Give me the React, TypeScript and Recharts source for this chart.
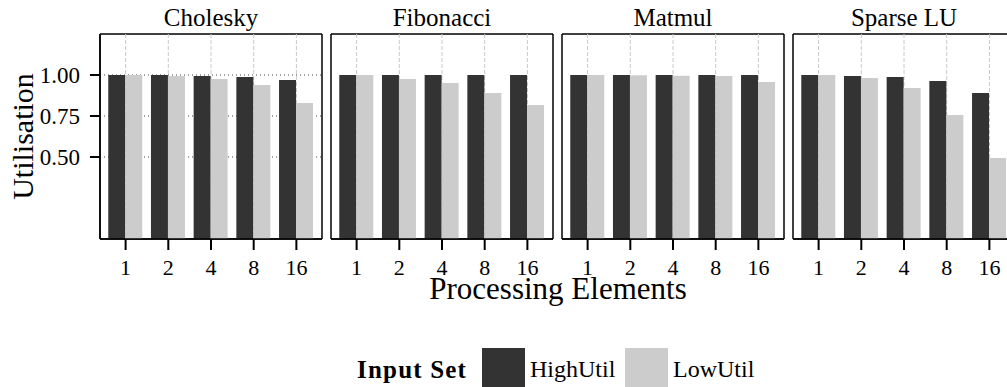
import React from 'react';
import { BarChart, Bar, XAxis, YAxis, CartesianGrid, Legend } from 'recharts';

const peLabels = ['1', '2', '4', '8', '16'];
const benchmarkNames = ['Cholesky', 'Fibonacci', 'Matmul', 'Sparse LU'];
const seriesNames = ['HighUtil', 'LowUtil'];
const seriesColors = ['#333333', '#cccccc'];
const yTicks = [0.5, 0.75, 1.0];

const choleskyHigh = [1.0, 1.0, 0.994, 0.988, 0.97];
const choleskyLow = [1.0, 0.994, 0.976, 0.939, 0.829];
const fibonacciHigh = [1.0, 1.0, 1.0, 1.0, 1.0];
const fibonacciLow = [1.0, 0.976, 0.951, 0.89, 0.817];
const matmulHigh = [1.0, 1.0, 1.0, 1.0, 1.0];
const matmulLow = [1.0, 0.999, 0.996, 0.994, 0.957];
const sparseLuHigh = [1.0, 0.994, 0.988, 0.963, 0.89];
const sparseLuLow = [1.0, 0.982, 0.921, 0.756, 0.494];

const highUtil = [choleskyHigh, fibonacciHigh, matmulHigh, sparseLuHigh];
const lowUtil = [choleskyLow, fibonacciLow, matmulLow, sparseLuLow];

const FONT = '"Liberation Serif", "Times New Roman", serif';
const CHART_W = 1030;
const CHART_H = 387;
const PLOT_W = 222;
const PLOT_TOP = 34;
const PLOT_BOTTOM = 239;
const X_AXIS_H = 45;
const PANEL_LEFT = [100, 331, 562, 793];
const UNIT = PLOT_W / 5.2;
const PAD = UNIT * 0.1;

const axisLineStyle = { stroke: '#000', strokeWidth: 1.5 };
const tickLineStyle = { stroke: '#000', strokeWidth: 2 };
const xTickTextStyle = { fill: '#000', fontSize: 22, fontFamily: FONT };
const yTickTextStyle = { fill: '#000', fontSize: 23, fontFamily: FONT };

const renderLegend = (props: any) => {
  const payload = props.payload || [];
  return (
    <div style={{ display: 'flex', alignItems: 'center', fontFamily: FONT, color: '#000', whiteSpace: 'nowrap' }}>
      <span style={{ fontWeight: 'bold', fontSize: 25, letterSpacing: 1.2, width: 125, display: 'inline-block' }}>Input Set</span>
      {payload.map((entry: any, i: number) => (
        <React.Fragment key={String(entry.value)}>
          <span style={{ display: 'inline-block', width: 43, height: 43, background: entry.color }} />
          <span style={{ display: 'inline-block', fontSize: 24, marginLeft: 5, width: i === 0 ? 95 : 'auto' }}>{entry.value}</span>
        </React.Fragment>
      ))}
    </div>
  );
};

function Panel({ index }: { index: number }) {
  const first = index === 0;
  const yW = first ? 100 : 0;
  const left = PANEL_LEFT[index] - yW;
  const right = CHART_W - PANEL_LEFT[index] - PLOT_W;
  const data = peLabels.map((pe, i) => ({
    pe,
    [seriesNames[0]]: highUtil[index][i],
    [seriesNames[1]]: lowUtil[index][i],
  }));
  const title = benchmarkNames[index];
  return (
    <div style={{ position: 'absolute', left: 0, top: 0 }}>
      <BarChart
        width={CHART_W}
        height={CHART_H}
        data={data}
        margin={{ top: PLOT_TOP, right, bottom: CHART_H - PLOT_BOTTOM - X_AXIS_H, left }}
        barCategoryGap={4}
        barGap={0}
      >
        <CartesianGrid
          stroke="#000"
          strokeWidth={1.5}
          horizontalCoordinatesGenerator={(p: any) => [p.offset.top, p.offset.top + p.offset.height]}
          verticalCoordinatesGenerator={(p: any) => [p.offset.left, p.offset.left + p.offset.width]}
        />
        <CartesianGrid horizontal={false} vertical syncWithTicks stroke="#c8c8c8" strokeDasharray="4 2" />
        <CartesianGrid horizontal vertical={false} syncWithTicks stroke="#444" strokeDasharray="1 3" />
        <XAxis
          dataKey="pe"
          interval={0}
          padding={{ left: PAD, right: PAD }}
          height={X_AXIS_H}
          tickSize={11}
          tickMargin={9}
          tick={xTickTextStyle}
          tickLine={tickLineStyle}
          axisLine={axisLineStyle}
          label={(p: any) => {
            const vb = p.viewBox || {};
            const cx = (vb.x ?? PANEL_LEFT[index]) + (vb.width ?? PLOT_W) / 2;
            return (
              <g>
                <text x={cx} y={26} textAnchor="middle" fontSize={25} fontFamily={FONT} style={{ fontFamily: FONT }} fill="#000">
                  {title}
                </text>
                {first ? (
                  <text x={558} y={299} textAnchor="middle" fontSize={31} fontFamily={FONT} style={{ fontFamily: FONT }} fill="#000">
                    Processing Elements
                  </text>
                ) : null}
              </g>
            );
          }}
        />
        <YAxis
          domain={[0, 1.25]}
          ticks={yTicks}
          width={yW}
          tickSize={10}
          tickMargin={10}
          tick={first ? yTickTextStyle : false}
          tickLine={first ? tickLineStyle : false}
          axisLine={axisLineStyle}
          tickFormatter={(v: number) => v.toFixed(2)}
          label={
            first
              ? () => (
                  <text x={33} y={136.5} transform="rotate(-90 33 136.5)" textAnchor="middle" fontSize={30} fontFamily={FONT} style={{ fontFamily: FONT }} fill="#000">
                    Utilisation
                  </text>
                )
              : undefined
          }
        />
        {first ? (
          <Legend
            layout="horizontal"
            verticalAlign="middle"
            align="center"
            content={renderLegend}
            wrapperStyle={{ left: 357, top: 348, width: 460, height: 43 }}
          />
        ) : null}
        <Bar dataKey={seriesNames[0]} name={seriesNames[0]} fill={seriesColors[0]} isAnimationActive={false} />
        <Bar dataKey={seriesNames[1]} name={seriesNames[1]} fill={seriesColors[1]} isAnimationActive={false} />
      </BarChart>
    </div>
  );
}

export default function App() {
  return (
    <div
      style={{
        position: 'absolute',
        left: 0,
        top: 0,
        width: 1007,
        height: 387,
        overflow: 'hidden',
        background: '#fff',
        fontFamily: FONT,
      }}
    >
      {benchmarkNames.map((name, i) => (
        <Panel key={name} index={i} />
      ))}
    </div>
  );
}
